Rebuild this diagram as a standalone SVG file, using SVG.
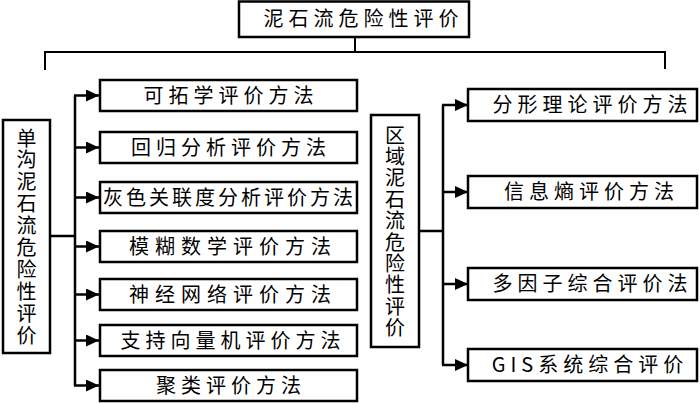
<svg xmlns="http://www.w3.org/2000/svg" width="700" height="403" viewBox="0 0 700 403">
<style>
.box{fill:#fff;stroke:#000;stroke-width:2.5}
.ln{fill:none;stroke:#000;stroke-width:2.5}
.tl{fill:none;stroke:#000;stroke-width:2}
.t{font-family:"Noto Sans CJK SC","Noto Sans CJK JP",sans-serif;font-size:20px;fill:#000;text-anchor:middle;letter-spacing:5px}
.v{font-family:"Noto Sans CJK SC","Noto Sans CJK JP",sans-serif;font-size:20px;fill:#000;writing-mode:vertical-rl;text-orientation:upright}
</style>
<defs>
<marker id="ah" markerUnits="userSpaceOnUse" markerWidth="13" markerHeight="12" refX="13" refY="6" orient="auto">
<path d="M0,0 L13,6 L0,12 z" fill="#000"/>
</marker>
</defs>
<rect width="700" height="403" fill="#fff"/>
<g id="connectors">
<path class="tl" d="M355 37 V52 M45 70 V52 H665 V69"/>
<path class="ln" d="M50 236 H75 M75 95.5 V385.5"/>
<line class="ln" x1="74" y1="95.5" x2="99" y2="95.5" marker-end="url(#ah)"/>
<line class="ln" x1="75" y1="147.5" x2="99" y2="147.5" marker-end="url(#ah)"/>
<line class="ln" x1="75" y1="197.5" x2="99" y2="197.5" marker-end="url(#ah)"/>
<line class="ln" x1="75" y1="246.5" x2="99" y2="246.5" marker-end="url(#ah)"/>
<line class="ln" x1="75" y1="294.5" x2="99" y2="294.5" marker-end="url(#ah)"/>
<line class="ln" x1="75" y1="340.5" x2="99" y2="340.5" marker-end="url(#ah)"/>
<line class="ln" x1="74" y1="385.5" x2="99" y2="385.5" marker-end="url(#ah)"/>
<path class="ln" d="M419 231 H443 M443 105 V365"/>
<line class="ln" x1="442" y1="105" x2="468" y2="105" marker-end="url(#ah)"/>
<line class="ln" x1="443" y1="192" x2="468" y2="192" marker-end="url(#ah)"/>
<line class="ln" x1="443" y1="284" x2="468" y2="284" marker-end="url(#ah)"/>
<line class="ln" x1="442" y1="365" x2="468" y2="365" marker-end="url(#ah)"/>
</g>
<g id="root">
<rect class="box" x="239" y="1.5" width="230" height="35.5"/>
<text class="t" x="363.5" y="26">泥石流危险性评价</text>
</g>
<g id="single">
<rect class="box" x="3" y="120" width="47" height="233"/>
<text class="v" x="26.5" y="128" style="letter-spacing:1.9px">单沟泥石流危险性评价</text>
</g>
<g id="regional">
<rect class="box" x="371" y="115" width="48" height="232"/>
<text class="v" x="395" y="125" style="letter-spacing:1.4px">区域泥石流危险性评价</text>
</g>
<g id="m1"><rect class="box" x="100" y="80" width="257" height="31"/><text class="t" x="231" y="102.5">可拓学评价方法</text></g>
<g id="m2"><rect class="box" x="100" y="132" width="257" height="31"/><text class="t" x="231" y="154.5">回归分析评价方法</text></g>
<g id="m3"><rect class="box" x="100" y="182" width="257" height="31"/><text class="t" x="229.5" y="204.5" style="letter-spacing:3px">灰色关联度分析评价方法</text></g>
<g id="m4"><rect class="box" x="100" y="231" width="257" height="31"/><text class="t" x="233" y="253.5" style="letter-spacing:6px">模糊数学评价方法</text></g>
<g id="m5"><rect class="box" x="100" y="279" width="257" height="31"/><text class="t" x="233" y="301.5" style="letter-spacing:6px">神经网络评价方法</text></g>
<g id="m6"><rect class="box" x="100" y="325" width="257" height="31"/><text class="t" x="233" y="347.5">支持向量机评价方法</text></g>
<g id="m7"><rect class="box" x="100" y="370" width="257" height="31"/><text class="t" x="231" y="392.5">聚类评价方法</text></g>
<g id="r1"><rect class="box" x="468" y="89" width="229" height="32"/><text class="t" x="592.5" y="112">分形理论评价方法</text></g>
<g id="r2"><rect class="box" x="468" y="176" width="229" height="32"/><text class="t" x="591.5" y="199">信息熵评价方法</text></g>
<g id="r3"><rect class="box" x="468" y="268" width="229" height="32"/><text class="t" x="592.5" y="291">多因子综合评价法</text></g>
<g id="r4"><rect class="box" x="468" y="349" width="229" height="32"/><text class="t" x="590" y="372">GIS系统综合评价</text></g>
</svg>
